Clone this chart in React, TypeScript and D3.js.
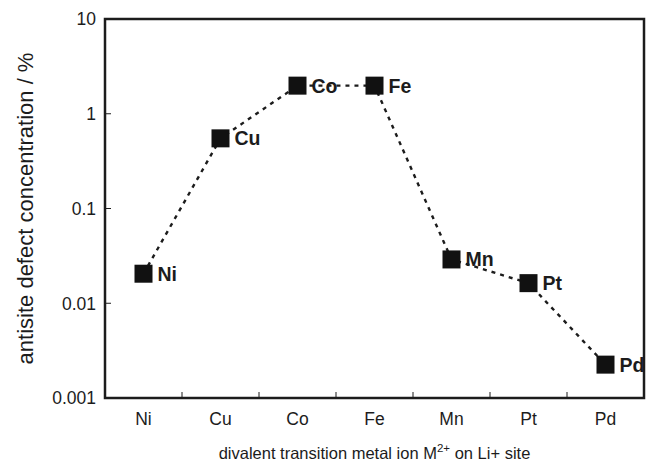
import React, { useEffect, useRef } from 'react';
import * as d3 from 'd3';

const metals = ['Ni', 'Cu', 'Co', 'Fe', 'Mn', 'Pt', 'Pd'];
const defectConc = [0.0205, 0.55, 1.98, 1.98, 0.029, 0.0163, 0.00225];
const yTicks = [0.001, 0.01, 0.1, 1, 10];
const yTickLabels = ['0.001', '0.01', '0.1', '1', '10'];

const App = () => {
  const ref = useRef<SVGSVGElement>(null);
  const width = 646;
  const height = 469;

  useEffect(() => {
    const svg = d3.select(ref.current);
    svg.selectAll('*').remove();
    const margin = { top: 19, right: 2, bottom: 71, left: 105 };
    const w = width - margin.left - margin.right;
    const h = height - margin.top - margin.bottom;
    const ink = '#1c1c1c';
    const font = '"Liberation Sans", Arial, Helvetica, sans-serif';

    const g = svg.append('g')
      .attr('transform', `translate(${margin.left}, ${margin.top})`);

    const xScale = d3.scaleBand().domain(metals).range([0, w]);
    const yScale = d3.scaleLog().domain([0.001, 10]).range([h, 0]);

    // ticks pointing inward
    g.selectAll('.ytick')
      .data(yTicks.slice(1, -1))
      .enter().append('line')
      .attr('x1', 0).attr('x2', 6)
      .attr('y1', d => yScale(d)).attr('y2', d => yScale(d))
      .attr('stroke', ink).attr('stroke-width', 1);

    g.selectAll('.xtick')
      .data(metals.slice(1))
      .enter().append('line')
      .attr('x1', d => xScale(d)!).attr('x2', d => xScale(d)!)
      .attr('y1', h).attr('y2', h - 6)
      .attr('stroke', ink).attr('stroke-width', 1);

    g.selectAll('.ylab')
      .data(yTicks)
      .enter().append('text')
      .attr('x', -9)
      .attr('y', d => yScale(d))
      .attr('dy', '0.36em')
      .attr('text-anchor', 'end')
      .style('font-family', font)
      .style('font-size', '17.5px')
      .style('fill', ink)
      .text((d, i) => yTickLabels[i]);

    g.selectAll('.xlab')
      .data(metals)
      .enter().append('text')
      .attr('x', d => xScale(d)! + xScale.bandwidth() / 2)
      .attr('y', h + 27)
      .attr('text-anchor', 'middle')
      .style('font-family', font)
      .style('font-size', '17.5px')
      .style('fill', ink)
      .text(d => d);

    // axis titles
    const xt = g.append('text')
      .attr('x', w / 2)
      .attr('y', h + 61)
      .attr('text-anchor', 'middle')
      .style('font-family', font)
      .style('font-size', '16.5px')
      .style('fill', ink);
    xt.append('tspan').text('divalent transition metal ion M');
    xt.append('tspan').attr('dy', -7).style('font-size', '11.5px').text('2+');
    xt.append('tspan').attr('dy', 7).text(' on Li+ site');

    g.append('text')
      .attr('transform', 'rotate(-90)')
      .attr('x', -h / 2)
      .attr('y', -72)
      .attr('text-anchor', 'middle')
      .style('font-family', font)
      .style('font-size', '22px')
      .style('fill', ink)
      .text('antisite defect concentration / %');

    const pts = metals.map((m, i) => ({ name: m, v: defectConc[i] }));
    const cx = (d: { name: string }) => xScale(d.name)! + xScale.bandwidth() / 2;

    // point labels
    g.selectAll('.plab')
      .data(pts)
      .enter().append('text')
      .attr('x', d => cx(d) + 14)
      .attr('y', d => yScale(d.v))
      .attr('dy', '0.36em')
      .style('font-family', font)
      .style('font-size', '19.5px')
      .style('font-weight', 'bold')
      .style('fill', ink)
      .text(d => d.name);

    const line = d3.line<{ name: string; v: number }>()
      .x(d => cx(d))
      .y(d => yScale(d.v));

    g.append('path')
      .datum(pts)
      .attr('d', line)
      .attr('fill', 'none')
      .attr('stroke', ink)
      .attr('stroke-width', 2.4)
      .attr('stroke-dasharray', '4,5');

    g.selectAll('.marker')
      .data(pts)
      .enter().append('rect')
      .attr('x', d => cx(d) - 9)
      .attr('y', d => yScale(d.v) - 9)
      .attr('width', 18)
      .attr('height', 18)
      .attr('fill', '#111');

    // frame
    g.append('rect')
      .attr('x', 0).attr('y', 0)
      .attr('width', w).attr('height', h)
      .attr('fill', 'none')
      .attr('stroke', ink)
      .attr('stroke-width', 2.5);
  }, []);

  return (
    <svg ref={ref} width={width} height={height}
      style={{ position: 'absolute', left: 0, top: 0, background: '#fff' }} />
  );
};

export default App;
